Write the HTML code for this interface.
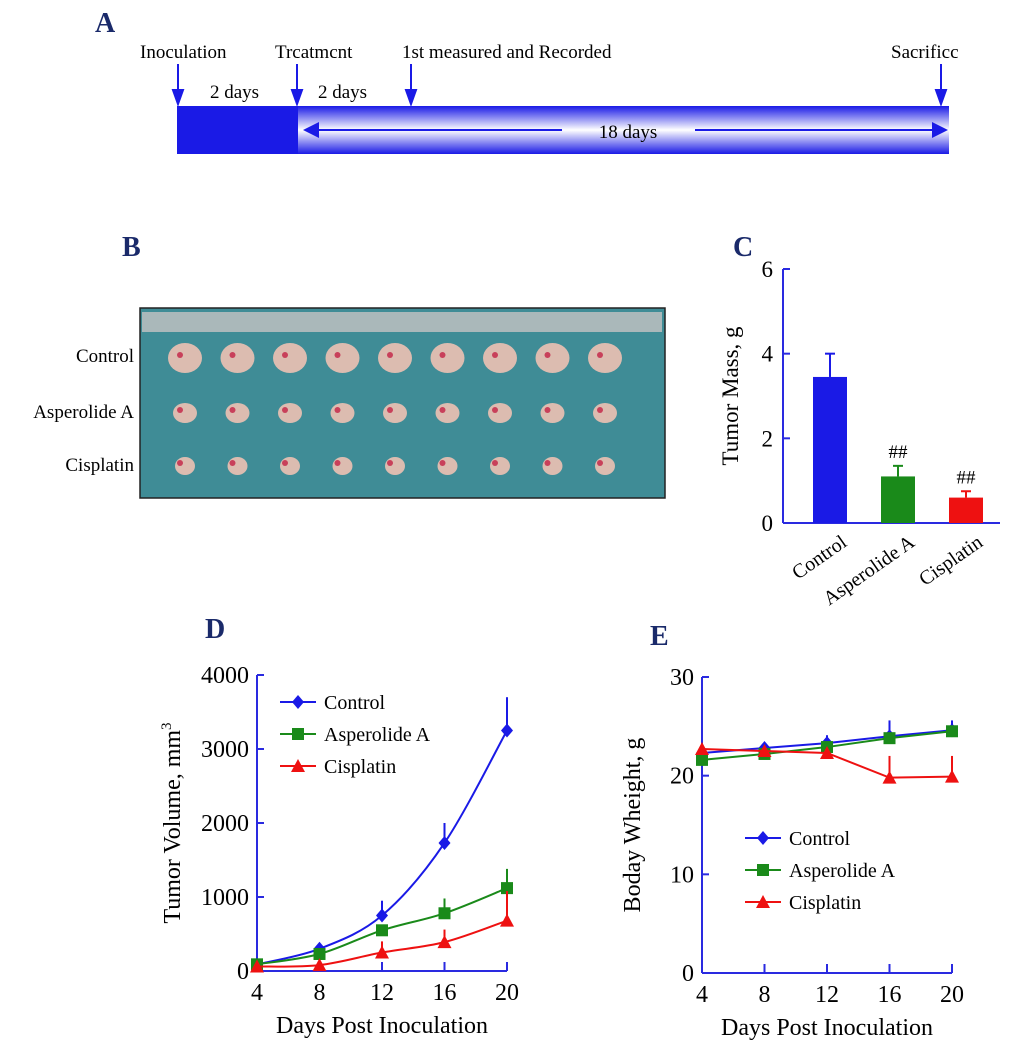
<!DOCTYPE html>
<html><head><meta charset="utf-8"><style>
body{margin:0;background:#fff}
svg{display:block;font-family:"Liberation Serif",serif}
</style></head><body>
<svg id="fig" width="1024" height="1063" viewBox="0 0 1024 1063" xmlns="http://www.w3.org/2000/svg">
<defs>
<linearGradient id="tg" x1="0" y1="0" x2="0" y2="1">
<stop offset="0" stop-color="#1a1ae6"/><stop offset="0.5" stop-color="#ffffff"/><stop offset="1" stop-color="#1a1ae6"/>
</linearGradient>
<marker id="ah" markerWidth="8" markerHeight="8" refX="7" refY="4" orient="auto"><path d="M0,0 L8,4 L0,8 Z" fill="#1a1ae6"/></marker>
</defs>
<!-- Panel A -->
<g>
<text x="95" y="32" font-size="28" font-weight="bold" fill="#1a2a6a">A</text>
<text x="140" y="58" font-size="19">Inoculation</text>
<text x="275" y="58" font-size="19">Trcatmcnt</text>
<text x="402" y="58" font-size="19">1st measured and Recorded</text>
<text x="891" y="58" font-size="19">Sacrificc</text>
<text x="210" y="98" font-size="19">2 days</text>
<text x="318" y="98" font-size="19">2 days</text>
<g stroke="#1a1ae6" stroke-width="2" fill="#1a1ae6">
<line x1="178" y1="64" x2="178" y2="100"/><path d="M173,90 L178,104 L183,90 Z"/>
<line x1="297" y1="64" x2="297" y2="100"/><path d="M292,90 L297,104 L302,90 Z"/>
<line x1="411" y1="64" x2="411" y2="100"/><path d="M406,90 L411,104 L416,90 Z"/>
<line x1="941" y1="64" x2="941" y2="100"/><path d="M936,90 L941,104 L946,90 Z"/>
</g>
<rect x="177" y="106" width="772" height="48" fill="url(#tg)"/>
<rect x="177" y="106" width="121" height="48" fill="#1a1ae6"/>
<line x1="562" y1="130" x2="305" y2="130" stroke="#1a1ae6" stroke-width="2" marker-end="url(#ah)"/>
<line x1="695" y1="130" x2="946" y2="130" stroke="#1a1ae6" stroke-width="2" marker-end="url(#ah)"/>
<text x="628" y="138" font-size="19" text-anchor="middle">18 days</text>
</g>
<!-- Panel B -->
<g>
<text x="122" y="256" font-size="28" font-weight="bold" fill="#1a2a6a">B</text>
<rect x="140" y="308" width="525" height="190" fill="#3f8c96" stroke="#222" stroke-width="1.5"/>
<rect x="142" y="312" width="520" height="20" fill="#aab8ba"/>
<text x="134" y="362" font-size="19" text-anchor="end">Control</text>
<text x="134" y="418" font-size="19" text-anchor="end">Asperolide A</text>
<text x="134" y="471" font-size="19" text-anchor="end">Cisplatin</text>
<g id="tumors"></g>
</g>
<!-- Panel C -->
<text x="733" y="256" font-size="28" font-weight="bold" fill="#1a2a6a">C</text>
<g id="pc"></g>
<!-- Panel D -->
<text x="205" y="638" font-size="28" font-weight="bold" fill="#1a2a6a">D</text>
<g id="pd"></g>
<!-- Panel E -->
<text x="650" y="645" font-size="28" font-weight="bold" fill="#1a2a6a">E</text>
<g id="pe"></g>
</svg>
<script>
const NS="http://www.w3.org/2000/svg";
const barCats=["Control","Asperolide A","Cisplatin"];
const barVals=[3.45,1.1,0.6];
const barErrs=[0.55,0.25,0.15];
const barTicks=[0,2,4,6];
const days=[4,8,12,16,20];
const volControl=[90,300,750,1730,3250];
const volAsp=[90,230,550,780,1120];
const volCis=[60,80,250,390,680];
const volErrControl=[20,60,200,270,450];
const volErrAsp=[20,40,60,200,260];
const volErrCis=[10,20,150,170,400];
const volTicks=[0,1000,2000,3000,4000];
const wControl=[22.3,22.8,23.3,24.0,24.6];
const wAsp=[21.6,22.2,22.9,23.8,24.5];
const wCis=[22.7,22.5,22.3,19.8,19.9];
const wErrControl=[0.5,0.5,0.8,1.6,1.0];
const wErrAsp=[0.4,0.4,0.4,0.5,0.5];
const wErrCis=[0.5,0.4,0.5,2.2,2.1];
const wTicks=[0,10,20,30];
const seriesNames=["Control","Asperolide A","Cisplatin"];
const colors=["#1a1ae6","#1a8a1a","#ee1111"];
const AX="#2a2ae0";

function mk(tag,attrs,parent){const e=document.createElementNS(NS,tag);for(const k in attrs)e.setAttribute(k,attrs[k]);parent.appendChild(e);return e;}

(function(){const g=document.getElementById('tumors');
const rows=[[358,17,15],[413,12,10],[466,10,9]];
for(let r=0;r<3;r++)for(let i=0;i<9;i++){
const e=mk('ellipse',{cx:185+i*52.5,cy:rows[r][0],rx:rows[r][1],ry:rows[r][2],fill:'#dcbcb0'},g);


mk('circle',{cx:180+i*52.5,cy:rows[r][0]-3,r:3,fill:'#c8405a'},g);}
})();

(function(){const g=document.getElementById('pc');
const x0=783,x1=1000,yb=523,yt=269;const ys=v=>yb-(v/6)*(yb-yt);
const bx=i=>830+i*68;
mk('line',{x1:x0,y1:yt,x2:x0,y2:yb,stroke:AX,"stroke-width":2},g);
mk('line',{x1:x0,y1:yb,x2:x1,y2:yb,stroke:AX,"stroke-width":2},g);
barTicks.forEach(t=>{mk('line',{x1:x0,y1:ys(t),x2:x0+7,y2:ys(t),stroke:AX,"stroke-width":2},g);
const tx=mk('text',{x:x0-10,y:ys(t)+8,"font-size":23,"text-anchor":"end"},g);tx.textContent=t;
});
const yl=mk('text',{transform:"translate(738,396) rotate(-90)","font-size":23,"text-anchor":"middle"},g);yl.textContent="Tumor Mass, g";

barCats.forEach((c,i)=>{const cx=bx(i);
mk('line',{x1:cx,y1:ys(barVals[i]),x2:cx,y2:ys(barVals[i]+barErrs[i]),stroke:colors[i],"stroke-width":2},g);
mk('line',{x1:cx-5,y1:ys(barVals[i]+barErrs[i]),x2:cx+5,y2:ys(barVals[i]+barErrs[i]),stroke:colors[i],"stroke-width":2},g);
const r=mk('rect',{x:cx-17,y:ys(barVals[i]),width:34,height:yb-ys(barVals[i]),fill:colors[i]},g);

if(i>0){const h=mk('text',{x:cx,y:ys(barVals[i]+barErrs[i])-8,"font-size":19,"text-anchor":"middle"},g);h.textContent="##";
}
const l=mk('text',{transform:`translate(${cx+18},${yb+22}) rotate(-35)`,"font-size":20,"text-anchor":"end"},g);l.textContent=c;
});
})();

function marker(g,shape,x,y,c){
if(shape===0)mk('path',{d:`M${x},${y-7} L${x+6},${y} L${x},${y+7} L${x-6},${y} Z`,fill:c},g);
else if(shape===1)mk('rect',{x:x-6,y:y-6,width:12,height:12,fill:c},g);
else mk('path',{d:`M${x},${y-7} L${x+7},${y+6} L${x-7},${y+6} Z`,fill:c},g);}

function smooth(pts){let d=`M${pts[0][0]},${pts[0][1]}`;
for(let i=0;i<pts.length-1;i++){const p0=pts[Math.max(0,i-1)],p1=pts[i],p2=pts[i+1],p3=pts[Math.min(pts.length-1,i+2)];
const c1=[p1[0]+(p2[0]-p0[0])/6,p1[1]+(p2[1]-p0[1])/6],c2=[p2[0]-(p3[0]-p1[0])/6,p2[1]-(p3[1]-p1[1])/6];
d+=` C${c1[0]},${c1[1]} ${c2[0]},${c2[1]} ${p2[0]},${p2[1]}`;}return d;}

function lineChart(id,cfg){const g=document.getElementById(id);
const {x0,x1,yt,yb,ymax,ticks,series,errs,ylabel,ylx,legend,curved}=cfg;
const xs=d=>x0+(d-4)/16*(x1-x0);const ys=v=>yb-v/ymax*(yb-yt);
mk('line',{x1:x0,y1:yt,x2:x0,y2:yb,stroke:AX,"stroke-width":2},g);
mk('line',{x1:x0,y1:yb,x2:x1,y2:yb,stroke:AX,"stroke-width":2},g);
ticks.forEach(t=>{mk('line',{x1:x0,y1:ys(t),x2:x0+7,y2:ys(t),stroke:AX,"stroke-width":2},g);
const tx=mk('text',{x:x0-8,y:ys(t)+8,"font-size":24,"text-anchor":"end"},g);tx.textContent=t;
});
days.forEach(d=>{mk('line',{x1:xs(d),y1:yb,x2:xs(d),y2:yb-9,stroke:AX,"stroke-width":2},g);
const tx=mk('text',{x:xs(d),y:yb+29,"font-size":24,"text-anchor":"middle"},g);tx.textContent=d;
});
const xl=mk('text',{x:(x0+x1)/2,y:yb+62,"font-size":24,"text-anchor":"middle"},g);xl.textContent="Days Post Inoculation";

const yl=mk('text',{transform:`translate(${ylx},${(yt+yb)/2}) rotate(-90)`,"font-size":24,"text-anchor":"middle"},g);yl.innerHTML=ylabel;

series.forEach((s,si)=>{const c=colors[si];
s.forEach((v,i)=>{mk('line',{x1:xs(days[i]),y1:ys(v),x2:xs(days[i]),y2:ys(v+errs[si][i]),stroke:c,"stroke-width":2},g);});
const pts=s.map((v,i)=>[xs(days[i]),ys(v)]);
const p=mk('path',{d:curved?smooth(pts):('M'+pts.map(q=>q.join(',')).join(' L')),fill:'none',stroke:c,"stroke-width":2},g);

s.forEach((v,i)=>marker(g,si,xs(days[i]),ys(v),c));
const ly=legend[1]+si*32;
mk('line',{x1:legend[0],y1:ly,x2:legend[0]+36,y2:ly,stroke:c,"stroke-width":2},g);marker(g,si,legend[0]+18,ly,c);
const lt=mk('text',{x:legend[0]+44,y:ly+7,"font-size":20},g);lt.textContent=seriesNames[si];
});}

lineChart('pd',{x0:257,x1:507,yt:675,yb:971,ymax:4000,ticks:volTicks,series:[volControl,volAsp,volCis],errs:[volErrControl,volErrAsp,volErrCis],ylabel:'Tumor Volume, mm<tspan dy="-9" font-size="15">3</tspan>',ylx:180,legend:[280,702],curved:true});
lineChart('pe',{x0:702,x1:952,yt:677,yb:973,ymax:30,ticks:wTicks,series:[wControl,wAsp,wCis],errs:[wErrControl,wErrAsp,wErrCis],ylabel:'Boday Wheight, g',ylx:640,legend:[745,838],curved:false});
</script>
</body></html>
